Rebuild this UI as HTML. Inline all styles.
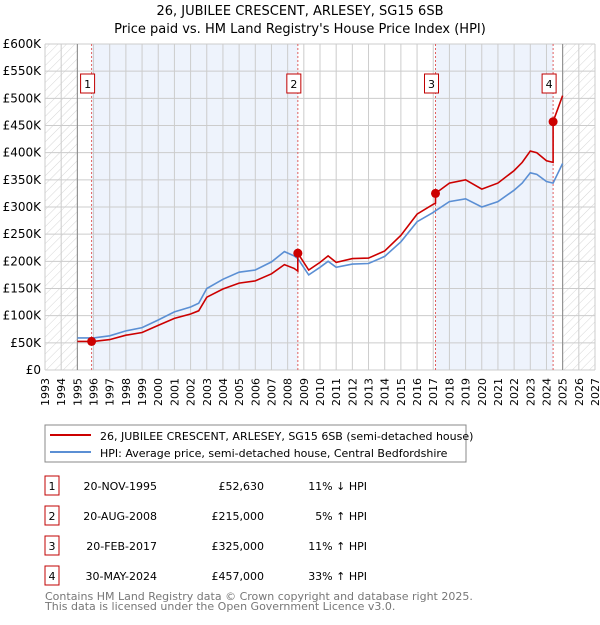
<!DOCTYPE html>
<html><head><meta charset="utf-8"><style>
body{margin:0;background:#fff;width:600px;height:620px;overflow:hidden;font-family:"Liberation Sans","DejaVu Sans",sans-serif}
svg text{font-family:"DejaVu Sans","Liberation Sans",sans-serif}
</style></head><body>
<svg id="c" width="600" height="620" xmlns="http://www.w3.org/2000/svg">
<defs><pattern id="hatch" width="6" height="6" patternUnits="userSpaceOnUse" patternTransform="rotate(45)"><line x1="0" y1="0" x2="0" y2="6" stroke="#ccc" stroke-width="0.8"/></pattern></defs>
<text x="300" y="15" text-anchor="middle" font-size="13">26, JUBILEE CRESCENT, ARLESEY, SG15 6SB</text>
<text x="300" y="33" text-anchor="middle" font-size="13">Price paid vs. HM Land Registry's House Price Index (HPI)</text>
<g id="plot"></g>
<rect x="45" y="425" width="421" height="37" fill="#fff" stroke="#888"/>
<line x1="50" y1="435" x2="91" y2="435" stroke="#cc0000" stroke-width="2"/>
<text x="100" y="440" font-size="11">26, JUBILEE CRESCENT, ARLESEY, SG15 6SB (semi-detached house)</text>
<line x1="50" y1="452" x2="91" y2="452" stroke="#5b8fd4" stroke-width="2"/>
<text x="100" y="457" font-size="11">HPI: Average price, semi-detached house, Central Bedfordshire</text>
<g id="table" font-size="11"></g>
<text x="45" y="600" font-size="11" fill="#777">Contains HM Land Registry data © Crown copyright and database right 2025.</text>
<text x="45" y="610" font-size="11" fill="#777">This data is licensed under the Open Government Licence v3.0.</text>
</svg>
<script>
const hpiYears=[1995,1996,1997,1998,1999,2000,2001,2002,2002.5,2003,2004,2005,2006,2007,2007.8,2008.4,2008.63,2009.3,2010,2010.5,2011,2012,2013,2014,2015,2016,2017,2017.14,2018,2019,2020,2021,2022,2022.5,2023,2023.4,2024,2024.41,2025];
const hpiValues=[59,59,63,72,78,92,107,116,123,150,167,180,184,199,218,210,205,175,189,200,189,195,196,209,236,273,290,293,310,315,300,310,331,344,363,360,347,344,380];
const redYears=[1995,1995.88,1996,1997,1998,1999,2000,2001,2002,2002.5,2003,2004,2005,2006,2007,2007.8,2008.4,2008.63,2008.63,2009.3,2010,2010.5,2011,2012,2013,2014,2015,2016,2017,2017.14,2017.14,2018,2019,2020,2021,2022,2022.5,2023,2023.4,2024,2024.41,2024.41,2025];
const redValues=[52.6,52.6,52.6,56,64,69,82,95,103,109,134,149,160,164,177,194,187,182,215,184,198,210,198,205,206,219,248,287,305,307,325,344,350,333,344,367,382,403,400,385,382,457,505];
const saleYears=[1995.88,2008.63,2017.14,2024.41];
const salePrices=[52.63,215,325,457];
const saleLabels=["1","2","3","4"];
const saleDates=["20-NOV-1995","20-AUG-2008","20-FEB-2017","30-MAY-2024"];
const salePriceText=["£52,630","£215,000","£325,000","£457,000"];
const saleHpiText=["11% \u2193 HPI","5% \u2191 HPI","11% \u2191 HPI","33% \u2191 HPI"];
const yTicks=[0,50,100,150,200,250,300,350,400,450,500,550,600];
const yTickLabels=["£0","£50K","£100K","£150K","£200K","£250K","£300K","£350K","£400K","£450K","£500K","£550K","£600K"];
const xMin=1993,xMax=2027;
const X0=45,X1=595,Y0=370,Y1=44;
const xs=v=>X0+(v-xMin)/(xMax-xMin)*(X1-X0);
const ys=v=>Y0-(v/600)*(Y0-Y1);
const NS="http://www.w3.org/2000/svg";
function mk(p,tag,at){const e=document.createElementNS(NS,tag);for(const k in at)e.setAttribute(k,at[k]);p.appendChild(e);return e;}
const g=document.getElementById('plot');
// backgrounds
let bg=mk(g,'rect',{x:X0,y:Y1,width:X1-X0,height:Y0-Y1,fill:'#fff'});


[[saleYears[0],saleYears[1]],[saleYears[2],saleYears[3]]].forEach(([a,b])=>{
 const r=mk(g,'rect',{x:xs(a),y:Y1,width:xs(b)-xs(a),height:Y0-Y1,fill:'#eef3fc'});
 
 
});
[[1993,1995],[2025,2027]].forEach(([a,b])=>{
 const r=mk(g,'rect',{x:xs(a),y:Y1,width:xs(b)-xs(a),height:Y0-Y1,fill:'url(#hatch)'});
 
 
});
// grid
for(let yr=xMin;yr<=xMax;yr++){
 const l=mk(g,'line',{x1:xs(yr),x2:xs(yr),y1:Y1,y2:Y0,stroke:'#ccc','stroke-width':1});
 
 
 const t=mk(g,'text',{x:0,y:0,'font-size':11,'text-anchor':'end',transform:`translate(${xs(yr)+4},378) rotate(-90)`});
 t.textContent=yr;
 
 
}
yTicks.forEach((v,i)=>{
 const l=mk(g,'line',{x1:X0,x2:X1,y1:ys(v),y2:ys(v),stroke:'#ccc','stroke-width':1});
 
 
 const t=mk(g,'text',{x:41,y:ys(v)+4,'font-size':12,'text-anchor':'end'});
 t.textContent=yTickLabels[i];
 
 
});
[1995,2025].forEach(yr=>{
 const l=mk(g,'line',{x1:xs(yr),x2:xs(yr),y1:Y1,y2:Y0,stroke:'#888','stroke-width':1});
 
 
});
saleYears.forEach((yr,i)=>{
 const l=mk(g,'line',{x1:xs(yr),x2:xs(yr),y1:Y1,y2:Y0,stroke:'#e06060','stroke-width':1,'stroke-dasharray':'2,2'});
 
 
 const bx=xs(yr)-11;
 const b=mk(g,'rect',{x:bx,y:74,width:14,height:19,fill:'#fff',stroke:'#c00000'});
 
 
 const t=mk(g,'text',{x:bx+7,y:88,'font-size':11,'text-anchor':'middle'});
 t.textContent=saleLabels[i];
 
 
});
const hp=mk(g,'path',{d:hpiYears.map((y,i)=>(i?'L':'M')+xs(y).toFixed(1)+','+ys(hpiValues[i]).toFixed(1)).join(''),fill:'none',stroke:'#5b8fd4','stroke-width':1.6});


const rp=mk(g,'path',{d:redYears.map((y,i)=>(i?'L':'M')+xs(y).toFixed(1)+','+ys(redValues[i]).toFixed(1)).join(''),fill:'none',stroke:'#cc0000','stroke-width':1.6});


saleYears.forEach((yr,i)=>{
 const c=mk(g,'circle',{cx:xs(yr),cy:ys(salePrices[i]),r:4.5,fill:'#cc0000'});
 
 
});
const tb=document.getElementById('table');
saleLabels.forEach((s,i)=>{
 const y0=476+i*30;
 const b=mk(tb,'rect',{x:45,y:y0,width:14,height:19,fill:'#fff',stroke:'#c00000'});
 
 
 const t=mk(tb,'text',{x:52,y:y0+14,'text-anchor':'middle'});t.textContent=s;
 
 
 const d=mk(tb,'text',{x:157,y:y0+14,'text-anchor':'end'});d.textContent=saleDates[i];
 
 
 const p=mk(tb,'text',{x:264,y:y0+14,'text-anchor':'end'});p.textContent=salePriceText[i];
 
 
 const h=mk(tb,'text',{x:367,y:y0+14,'text-anchor':'end'});h.textContent=saleHpiText[i];
 
 
});
</script>
</body></html>
